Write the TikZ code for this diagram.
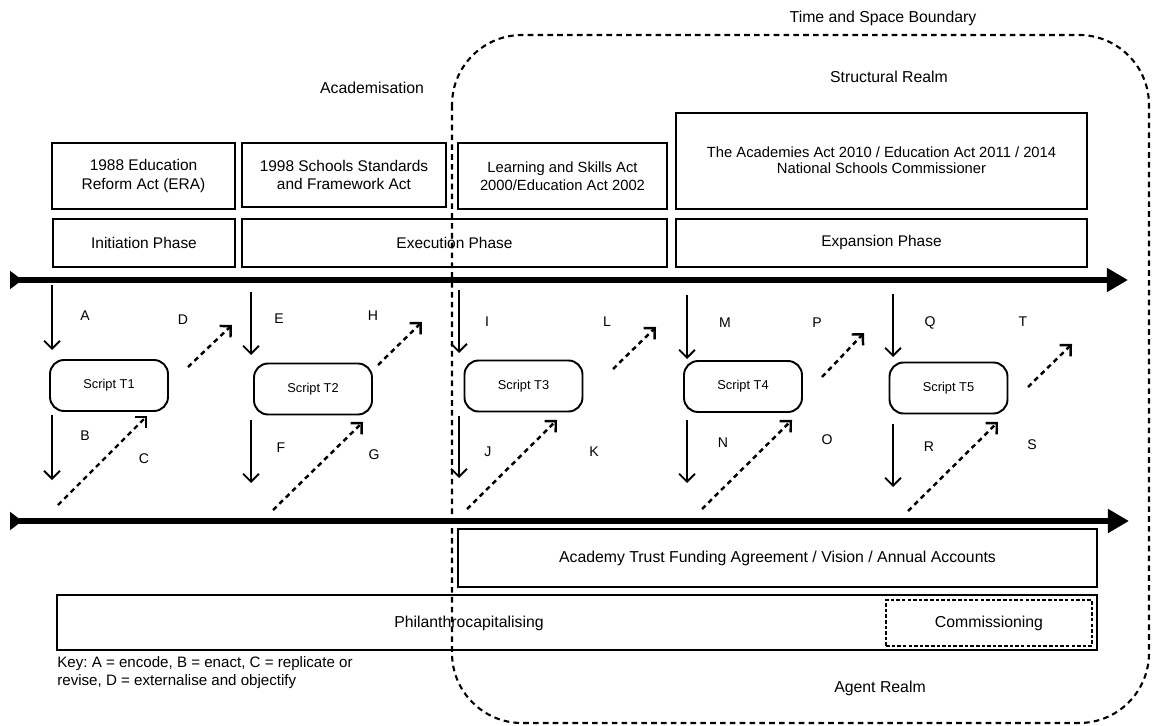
\documentclass[tikz,border=0pt]{standalone}
\usepackage{fontspec}
\setmainfont{Liberation Sans}
\usetikzlibrary{arrows.meta}

\begin{document}
\begin{tikzpicture}[x=0.02cm, y=-0.02cm,
  box/.style={draw, line width=1.1pt, align=center, inner sep=0pt, font=\fontsize{8.8}{10.4}\selectfont},
  phase/.style={box, minimum height=0.96cm},
  script/.style={draw, line width=1.1pt, rounded corners=8pt, minimum width=2.36cm, minimum height=1.02cm, font=\fontsize{7.3}{9}\selectfont},
  letter/.style={font=\fontsize{8}{9}\selectfont},
  caption/.style={font=\fontsize{9}{11}\selectfont},
  timeline/.style={line width=3pt, {Triangle[reversed,length=7pt,width=10pt]}-{Triangle[length=12pt,width=13pt]}},
  enact/.style={line width=1.1pt, -{Straight Barb[length=4.5pt,width=9pt]}},
  revise/.style={enact, line width=1.4pt, dash pattern=on 2.8pt off 2.3pt},
  boundary/.style={line width=1.2pt, dash pattern=on 3.2pt off 2.4pt, rounded corners=1.4cm}]

\useasboundingbox (0,0) rectangle (1153,726);

% realm labels
\node[caption] (tsb) at (883,18) {Time and Space Boundary};
\node[caption] (structural) at (889,77) {Structural Realm};
\node[caption] (academisation) at (372,88) {Academisation};

% acts
\node[box, minimum width=3.66cm, minimum height=1.32cm] (era) at (143.5,176) {1988 Education\\Reform Act (ERA)};
\node[box, minimum width=4.08cm, minimum height=1.28cm] (ssfa) at (344,175) {1998 Schools Standards\\and Framework Act};
\node[box, minimum width=4.18cm, minimum height=1.32cm, font=\fontsize{8.4}{10}\selectfont] (lsa) at (562.5,176) {Learning and Skills Act\\2000/Education Act 2002};
\node[box, minimum width=8.22cm, minimum height=1.92cm] (aa) at (881.5,161) {};
\node[font=\fontsize{8.4}{9.4}\selectfont, align=center] (aatext) at (881.5,160) {The Academies Act 2010 / Education Act 2011 / 2014\\National Schools Commissioner};

% phases
\node[phase, minimum width=3.64cm] (initiation) at (144,243) {Initiation Phase};
\node[phase, minimum width=8.5cm] (execution) at (454.5,243) {Execution Phase};
\node[phase, minimum width=8.22cm] (expansion) at (881.5,243) {Expansion Phase};

% time lines
\coordinate (top-s) at (10,280);
\coordinate (top-e) at (1128,280);
\coordinate (bot-s) at (10,521);
\coordinate (bot-e) at (1129,521);
\draw[timeline] (top-s) -- (top-e);
\draw[timeline] (bot-s) -- (bot-e);

% scripts
\foreach \n/\x/\y in {1/109/385.5, 2/313/389, 3/523.5/386, 4/743/386.5, 5/948.5/388}
  \node[script] (t\n) at (\x,\y) {Script T\n};

% encode / enact
\foreach \l/\x/\ya/\yb in {A/52/285/350, B/52/415/480, E/251/292/355, F/251/420/483,
    I/459/290/353, J/459/416/478, M/687/295/359, N/687/420/483, Q/893/294/357, R/893/424/487}{
  \coordinate (\l-s) at (\x,\ya);
  \coordinate (\l-e) at (\x,\yb);
  \draw[enact] (\l-s) -- (\l-e);
}

% replicate / externalise
\foreach \l/\xa/\ya/\xb/\yb in {C/58/505/147/416, D/188/367/232/325, G/273/510/363/422, H/378/365/422/322,
    K/467/509/557/420, L/613/369/656/327, O/702/509/792/420, P/822/377/864/333,
    S/908/511/998/422, T/1028/387/1072/344}{
  \coordinate (\l-s) at (\xa,\ya);
  \coordinate (\l-e) at (\xb,\yb);
  \draw[revise] (\l-s) -- (\l-e);
}

\foreach \l/\x/\y in {A/85/316, B/85/436, C/144/459, D/183/320, E/279/319, F/281/448, G/374/455, H/373/316,
    I/487/322, J/488/452, K/594/452, L/607/322, M/725/323, N/723/443, O/827/440, P/817/323,
    Q/930/323, R/929/447, S/1032/445, T/1023/322}
  \node[letter] (\l) at (\x,\y) {\l};

% agents
\node[box, minimum width=12.78cm, minimum height=1.16cm, font=\fontsize{9}{11}\selectfont] (funding) at (777.5,558) {Academy Trust Funding Agreement / Vision / Annual Accounts};
\node[box, minimum width=20.8cm, minimum height=1.1cm] (philbox) at (577,622.5) {};
\node[caption] (phil) at (469,623) {Philanthrocapitalising};
\node[box, line width=1.4pt, dash pattern=on 2pt off 1.2pt, minimum width=4.12cm, minimum height=0.92cm, font=\fontsize{9}{11}\selectfont] (comm) at (989,623) {Commissioning};

\node[caption, font=\fontsize{8.6}{10.4}\selectfont\frenchspacing, anchor=north west, align=left, inner sep=0pt] (key) at (57,656) {Key: A = encode, B = enact, C = replicate or\\revise, D = externalise and objectify};
\node[caption] (agent) at (880,688) {Agent Realm};

% time and space boundary
\draw[boundary] (452,35) rectangle (1149,723);

\end{tikzpicture}
\end{document}
